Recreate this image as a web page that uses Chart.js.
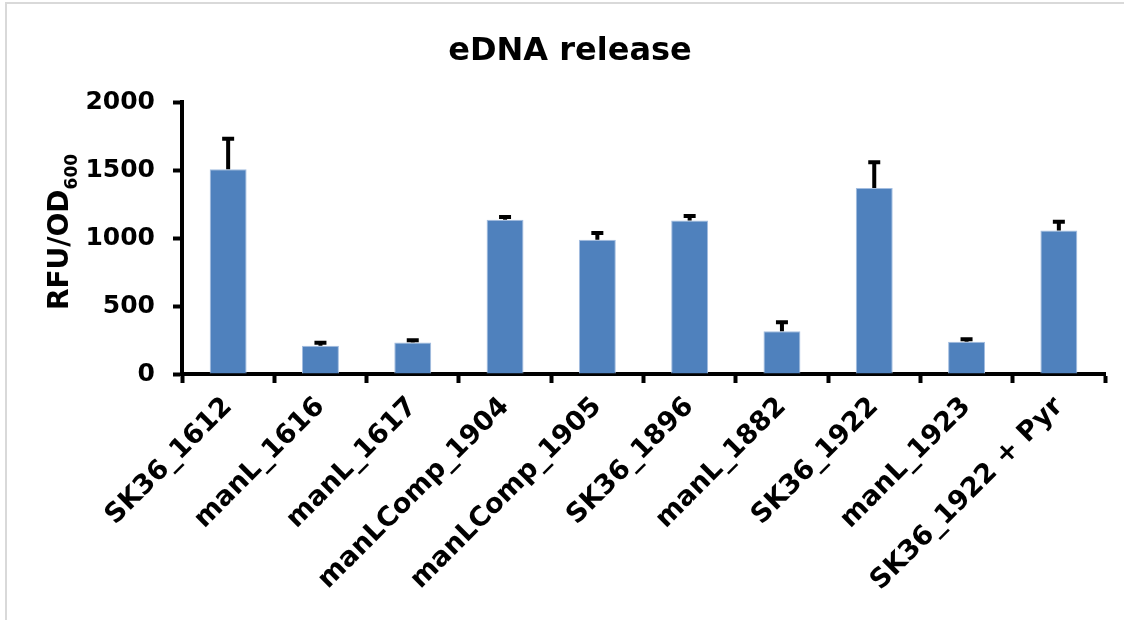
<!DOCTYPE html>
<html>
<head>
<meta charset="utf-8">
<script src="https://cdn.jsdelivr.net/npm/chart.js@4.4.0/dist/chart.umd.min.js"></script>
<style>
  html,body{margin:0;padding:0;background:#fff;}
  canvas{display:block;}
</style>
</head>
<body>
<canvas id="c" width="1124" height="620"></canvas>
<script>
const chartTitle = 'eDNA release';
const categories = ['SK36_1612','manL_1616','manL_1617','manLComp_1904','manLComp_1905','SK36_1896','manL_1882','SK36_1922','manL_1923','SK36_1922 + Pyr'];
const values = [1505, 208, 231, 1134, 987, 1129, 314, 1368, 238, 1056];
const errors = [224, 22, 17, 20, 49, 33, 67, 189, 18, 64];
const yTicks = [0, 500, 1000, 1500, 2000];
const yTitleMain = 'RFU/OD';
const yTitleSub = '600';

const FONT = 'DejaVu Sans';

const decorPlugin = {
  id: 'decor',
  beforeDraw(chart) {
    const ctx = chart.ctx;
    ctx.save();
    ctx.fillStyle = '#fff';
    ctx.fillRect(0, 0, chart.width, chart.height);
    ctx.fillStyle = '#d9d9d9';
    ctx.fillRect(5, 2, chart.width - 5, 2);
    ctx.fillRect(5, 2, 2, chart.height - 2);
    ctx.restore();
  },
  afterDraw(chart) {
    const ctx = chart.ctx;
    ctx.save();
    ctx.fillStyle = '#000';
    // title
    ctx.font = 'bold 32px "' + FONT + '"';
    ctx.textAlign = 'center';
    ctx.textBaseline = 'alphabetic';
    ctx.fillText(chartTitle, 570, 60);
    // y axis title with subscript
    const mainFont = 'bold 28px "' + FONT + '"';
    const subFont = 'bold 17px "' + FONT + '"';
    ctx.font = mainFont;
    const w1 = ctx.measureText(yTitleMain).width;
    ctx.font = subFont;
    const w2 = ctx.measureText(yTitleSub).width;
    const total = w1 + w2;
    ctx.translate(68, 232);
    ctx.rotate(-Math.PI / 2);
    ctx.textAlign = 'left';
    ctx.font = mainFont;
    ctx.fillText(yTitleMain, -total / 2, 0);
    ctx.font = subFont;
    ctx.fillText(yTitleSub, -total / 2 + w1, 9);
    ctx.restore();
  }
};

const errorBarPlugin = {
  id: 'errbars',
  afterDatasetsDraw(chart) {
    const ctx = chart.ctx;
    const ys = chart.scales.y;
    const meta = chart.getDatasetMeta(0);
    ctx.save();
    ctx.strokeStyle = '#000';
    ctx.lineWidth = 4;
    ctx.lineCap = 'butt';
    meta.data.forEach((bar, i) => {
      const x = bar.x;
      const y0 = ys.getPixelForValue(values[i]);
      const y1 = ys.getPixelForValue(values[i] + errors[i]);
      ctx.beginPath();
      ctx.moveTo(x, y0);
      ctx.lineTo(x, y1);
      ctx.moveTo(x - 6, y1);
      ctx.lineTo(x + 6, y1);
      ctx.stroke();
    });
    ctx.restore();
  }
};

new Chart(document.getElementById('c'), {
  type: 'bar',
  data: {
    labels: categories,
    datasets: [{
      data: values,
      backgroundColor: '#4F81BD',
      borderColor: '#a3bde0',
      borderWidth: 1,
      barPercentage: 0.4,
      categoryPercentage: 1.0
    }]
  },
  options: {
    responsive: false,
    animation: false,
    devicePixelRatio: 1,
    layout: { padding: { top: 102, right: 19, left: 0, bottom: 0 } },
    plugins: {
      legend: { display: false },
      title: { display: false },
      tooltip: { enabled: false }
    },
    scales: {
      x: {
        offset: true,
        grid: { display: true, drawOnChartArea: false, drawTicks: true, tickLength: 9, tickWidth: 4, tickColor: '#000', offset: true },
        border: { display: true, color: '#000', width: 4 },
        ticks: {
          color: '#000',
          font: { family: FONT, weight: 'bold', size: 27 },
          maxRotation: 45, minRotation: 45,
          padding: 8,
          autoSkip: false
        },
        afterFit(s) { s.height = 246; }
      },
      y: {
        min: 0, max: 2000,
        afterBuildTicks(s) { s.ticks = yTicks.map(v => ({ value: v })); },
        grid: { display: true, drawOnChartArea: false, drawTicks: true, tickLength: 9, tickWidth: 4, tickColor: '#000' },
        border: { display: true, color: '#000', width: 4 },
        ticks: {
          color: '#000',
          font: { family: FONT, weight: 'bold', size: 25 },
          padding: 18,
          callback: (v) => String(v)
        },
        afterFit(s) { s.width = 182; }
      }
    }
  },
  plugins: [decorPlugin, errorBarPlugin]
});
</script>
</body>
</html>
